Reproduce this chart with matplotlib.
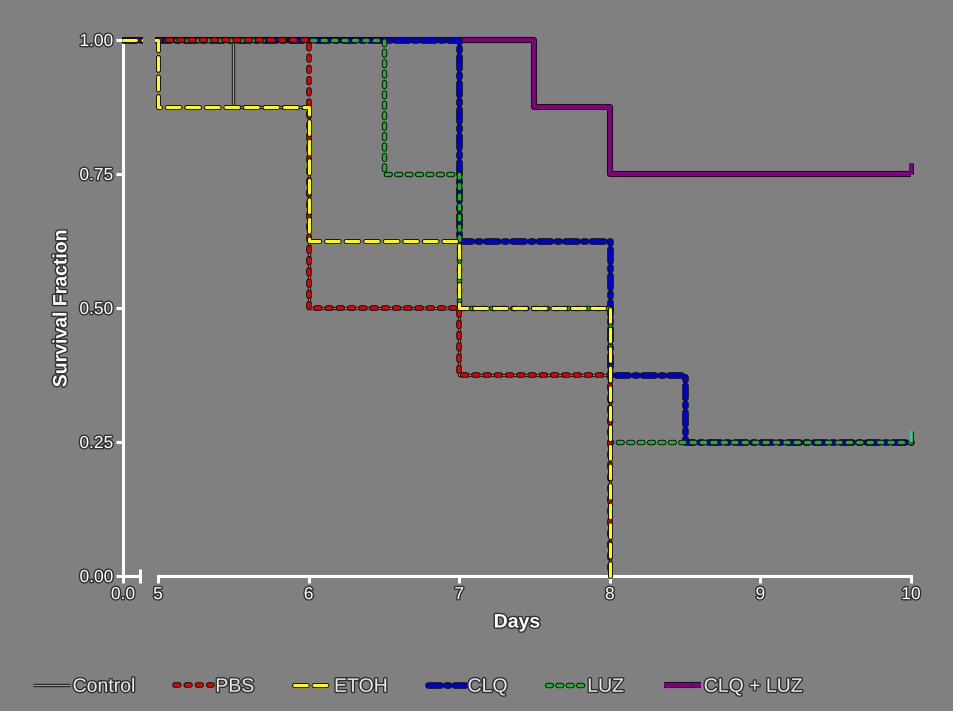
import matplotlib
matplotlib.use("Agg")
import matplotlib.pyplot as plt
import matplotlib.patheffects as pe
from matplotlib.path import Path
from matplotlib.markers import MarkerStyle

# survival curves: event times (days) and survival fraction after each step
control_t = [0, 5.5, 6, 7, 8]
control_s = [1.0, 0.875, 0.5, 0.375, 0.0]
pbs_t = [0, 6, 7, 8]
pbs_s = [1.0, 0.5, 0.375, 0.0]
etoh_t = [0, 5, 6, 7, 8]
etoh_s = [1.0, 0.875, 0.625, 0.5, 0.0]
clq_t = [0, 7, 8, 8.5, 10]
clq_s = [1.0, 0.625, 0.375, 0.25, 0.25]
luz_t = [0, 6.5, 7, 8, 10]
luz_s = [1.0, 0.75, 0.5, 0.25, 0.25]
combo_t = [0, 7.5, 8, 10]
combo_s = [1.0, 0.875, 0.75, 0.75]

# censored subjects at end of follow-up
censor_t = [10]
censor_s_luz = [0.25]
censor_s_combo = [0.75]

y_ticks = [0, 0.25, 0.5, 0.75, 1.0]
y_labels = ["0.00", "0.25", "0.50", "0.75", "1.00"]
x_ticks = [5, 6, 7, 8, 9, 10]

BG = "#808080"
FG = "white"
txt_fx = [pe.withStroke(linewidth=2, foreground="#303030")]

plt.rcParams["font.family"] = ["Liberation Sans", "DejaVu Sans"]

fig = plt.figure(figsize=(9.54, 7.11), dpi=100, facecolor=BG)
W, H = 954, 711

def px_axes(x0, x1, y_top, y_bot):
    return fig.add_axes([x0 / W, 1 - y_bot / H, (x1 - x0) / W, (y_bot - y_top) / H])

# y range padded so lines on 0 and 1 are not clipped
ylo, yhi = -0.02, 1.02
ypx0, ypx1 = 576, 40
scale = (ypx0 - ypx1)
ax_l = px_axes(123 - 0.03 * 34, 123 + 0.6 * 34, ypx0 - yhi * scale, ypx0 - ylo * scale)
ax_r = px_axes(158 - 0.02 * 150.6, 158 + 5.05 * 150.6, ypx0 - yhi * scale, ypx0 - ylo * scale)

series = [
    dict(t=control_t, s=control_s, label="Control", color="#9a9a9a", lw=1.0, ls="-", z=2),
    dict(t=pbs_t, s=pbs_s, label="PBS", color="#e00000", lw=2.7, ls=(0, (1.0, 2.0)), z=6),
    dict(t=etoh_t, s=etoh_s, label="ETOH", color="#ffff00", lw=2.2, ls=(0, (4.2, 2.2)), z=7),
    dict(t=clq_t, s=clq_s, label="CLQ", color="#0000d0", lw=3.4, ls=(0, (2.6, 1.2, 0.6, 1.2)), z=4),
    dict(t=luz_t, s=luz_s, label="LUZ", color="#20b030", lw=2.5, ls=(0, (1.1, 1.9)), z=5),
    dict(t=combo_t, s=combo_s, label="CLQ + LUZ", color="#800080", lw=3.0, ls="-", z=3),
]

handles = []
for ax in (ax_l, ax_r):
    ax.set_facecolor(BG)
    for d in series:
        line, = ax.plot(d["t"], d["s"], drawstyle="steps-post", color=d["color"],
                        lw=d["lw"], ls=d["ls"], zorder=d["z"], label=d["label"],
                        dash_capstyle="round", solid_capstyle="butt")
        line.set_path_effects([pe.Stroke(linewidth=d["lw"] + 1.4, foreground="#101010"), pe.Normal()])
        if ax is ax_l:
            handles.append(line)

tick_marker = MarkerStyle(Path([(0, 0), (0, 1)]))
for s_vals, col, z in ((censor_s_luz, "#40c890", 5), (censor_s_combo, "#800080", 3)):
    m, = ax_r.plot(censor_t, s_vals, ls="none", marker=tick_marker, ms=16,
                   mew=2.6, mec=col, zorder=z, clip_on=False)
    m.set_path_effects([pe.Stroke(linewidth=3.6, foreground="#101010"), pe.Normal()])

for ax in (ax_l, ax_r):
    ax.set_ylim(ylo, yhi)
    for side in ("top", "right"):
        ax.spines[side].set_visible(False)
    ax.spines["bottom"].set_position(("data", 0))
    ax.spines["bottom"].set_color(FG)
    ax.spines["bottom"].set_linewidth(2.2)
    ax.tick_params(axis="x", colors=FG, direction="out", length=5, width=2.2,
                   labelsize=12.5, pad=3)
    ax.tick_params(axis="x", which="minor", colors=FG, direction="inout", length=10, width=2.2)

# left stub of the broken x axis: day 0 only
ax_l.set_xlim(-0.03, 0.6)
ax_l.spines["bottom"].set_bounds(0, 0.5)
ax_l.spines["left"].set_position(("data", 0))
ax_l.spines["left"].set_bounds(0, 1)
ax_l.spines["left"].set_color(FG)
ax_l.spines["left"].set_linewidth(2.2)
ax_l.set_xticks([0])
ax_l.set_xticklabels(["0.0"])
ax_l.set_xticks([0.5], minor=True)
ax_l.set_yticks(y_ticks)
ax_l.set_yticklabels(y_labels)
ax_l.tick_params(axis="y", colors=FG, direction="out", length=5, width=2.2,
                 labelsize=12.5, pad=2)

# main section of the x axis
ax_r.set_xlim(4.98, 10.05)
ax_r.spines["left"].set_visible(False)
ax_r.spines["bottom"].set_bounds(5, 10)
ax_r.set_xticks(x_ticks)
ax_r.set_xticks([5], minor=True)
ax_r.set_yticks([])

for ax in (ax_l, ax_r):
    for lab in ax.get_xticklabels() + ax.get_yticklabels():
        lab.set_path_effects(txt_fx)

fig.text(62 / W, 1 - 308 / H, "Survival Fraction", rotation=90, ha="center", va="center",
         color=FG, fontsize=14, fontweight="bold", path_effects=txt_fx)
fig.text(517 / W, 1 - 623 / H, "Days", ha="center", va="center",
         color=FG, fontsize=14, fontweight="bold", path_effects=txt_fx)

leg = fig.legend(handles=handles, loc="center left", bbox_to_anchor=(25 / W, 1 - 687 / H),
                 ncol=6, frameon=False, fontsize=14, handlelength=1.9, handletextpad=0.15,
                 columnspacing=2.05, borderaxespad=0)
for t in leg.get_texts():
    t.set_color("#e8e8e8")
    t.set_path_effects(txt_fx)

fig.savefig("out.png", dpi=100, facecolor=BG)
